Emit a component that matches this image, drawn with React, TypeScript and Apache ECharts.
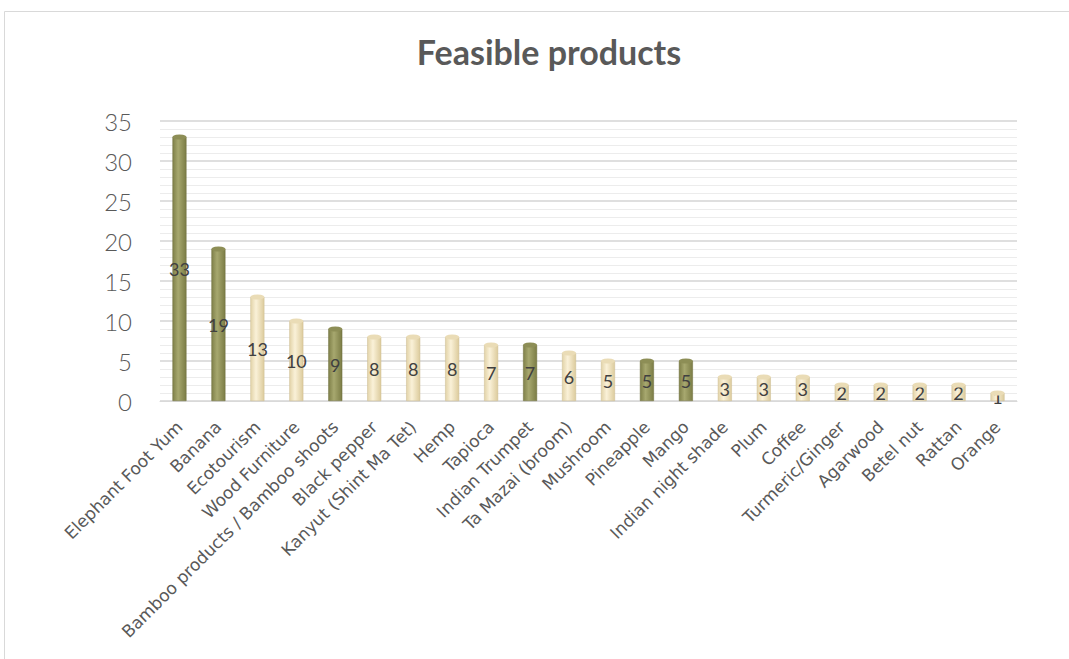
import React, { useEffect, useRef } from "react";
import * as echarts from "echarts";

const categories = [
  "Elephant Foot Yum", "Banana", "Ecotourism", "Wood Furniture",
  "Bamboo products / Bamboo shoots", "Black pepper", "Kanyut (Shint Ma Tet)",
  "Hemp", "Tapioca", "Indian Trumpet", "Ta Mazai (broom)", "Mushroom",
  "Pineapple", "Mango", "Indian night shade", "Plum", "Coffee",
  "Turmeric/Ginger", "Agarwood", "Betel nut", "Rattan", "Orange",
];
const values = [33, 19, 13, 10, 9, 8, 8, 8, 7, 7, 6, 5, 5, 5, 3, 3, 3, 2, 2, 2, 2, 1];
const highlighted = [true, true, false, false, true, false, false, false, false, true, false, false, true, true, false, false, false, false, false, false, false, false];
const yTicks = [0, 5, 10, 15, 20, 25, 30, 35];

const darkGrad = () =>
  new echarts.graphic.LinearGradient(0, 0, 1, 0, [
    { offset: 0, color: "#7f8049" },
    { offset: 0.4, color: "#a7a86f" },
    { offset: 1, color: "#7b7c45" },
  ]);
const lightGrad = () =>
  new echarts.graphic.LinearGradient(0, 0, 1, 0, [
    { offset: 0, color: "#e2d3a8" },
    { offset: 0.4, color: "#faf1d8" },
    { offset: 1, color: "#dccb9c" },
  ]);

export default function App() {
  const ref = useRef<HTMLDivElement>(null);
  useEffect(() => {
    if (!ref.current) return;
    const chart = echarts.init(ref.current, null, { renderer: "svg" });
    const barData = values.map((v, i) => ({
      value: v,
      itemStyle: {
        color: highlighted[i] ? darkGrad() : lightGrad(),
        borderColor: highlighted[i] ? "#6e6f3c" : "#cdbd92",
        borderWidth: 0.5,
      },
    }));
    const topData = values.map((v, i) => ({
      value: v,
      itemStyle: { color: highlighted[i] ? "#8d8e56" : "#eadcb6" },
    }));
    chart.setOption({
      animation: false,
      backgroundColor: "#ffffff",
      title: {
        text: "Feasible products",
        left: 544,
        top: 29,
        textAlign: "center",
        textStyle: {
          fontFamily: "Lato",
          fontWeight: "bold",
          fontSize: 34,
          color: "#595959",
        },
      },
      graphic: [
        {
          type: "rect",
          shape: { x: 4.5, y: 11.5, width: 1100, height: 700 },
          style: { fill: "none", stroke: "#d9d9d9", lineWidth: 1 },
          silent: true,
          z: -1,
        },
      ],
      grid: { left: 160, right: 52, top: 121, bottom: 258 },
      xAxis: {
        type: "category",
        data: categories,
        axisLine: { show: true, lineStyle: { color: "#d9d9d9" } },
        axisTick: { show: false },
        axisLabel: {
          rotate: 45,
          interval: 0,
          margin: 23,
          fontFamily: "DejaVu Sans",
          fontSize: 17,
          color: "#595959",
        },
      },
      yAxis: {
        type: "value",
        min: 0,
        max: 35,
        interval: 5,
        axisLine: { show: false },
        axisTick: { show: false },
        axisLabel: {
          margin: 28,
          fontFamily: "Lato",
          fontWeight: 300,
          fontSize: 24,
          color: "#595959",
          formatter: (v: number) => (yTicks.includes(v) ? String(v) : ""),
        },
        splitLine: { show: true, lineStyle: { color: "#d4d4d4", width: 1.5 } },
        minorTick: { show: false, splitNumber: 5 },
        minorSplitLine: { show: true, lineStyle: { color: "#ececec", width: 1 } },
      },
      series: [
        {
          type: "bar",
          data: barData,
          barWidth: 14,
          z: 2,
          label: {
            show: true,
            position: "inside",
            fontFamily: "Lato",
            fontSize: 18,
            color: "#404040",
          },
        },
        {
          type: "pictorialBar",
          data: topData,
          symbol: "circle",
          symbolSize: [14, 5],
          symbolPosition: "end",
          symbolOffset: [0, "-50%"],
          z: 3,
          silent: true,
        },
      ],
    });
    return () => chart.dispose();
  }, []);
  return (
    <div
      ref={ref}
      style={{ position: "fixed", left: 0, top: 0, width: 1069, height: 659 }}
    />
  );
}
